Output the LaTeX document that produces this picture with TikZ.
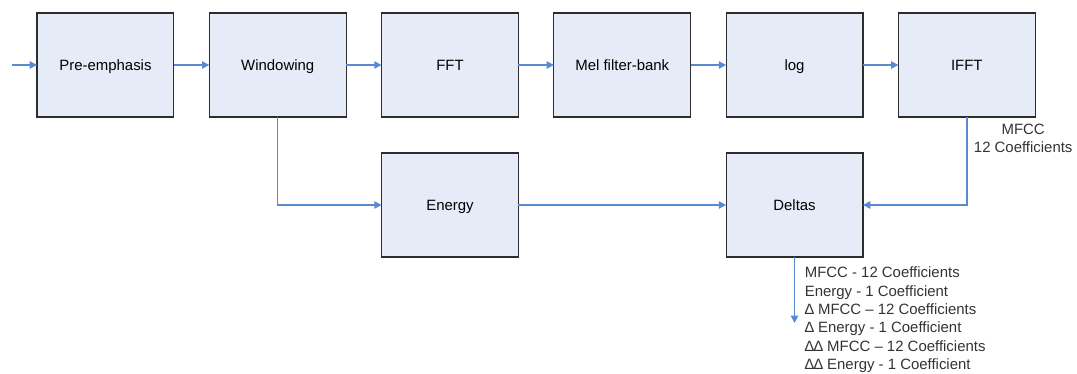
\documentclass[tikz,border=0pt]{standalone}
\usepackage{fontspec}
\setmainfont{Liberation Sans}
\usetikzlibrary{arrows.meta,positioning}

\definecolor{boxfill}{RGB}{230,236,247}
\definecolor{boxline}{RGB}{45,45,45}
\definecolor{flow}{RGB}{88,138,212}

\begin{document}
\begin{tikzpicture}[node distance=26.6pt,>={Triangle[length=5.5pt,width=5.5pt]},
    font=\fontsize{11.2}{13.75}\selectfont]

  \tikzstyle{block}=[rectangle,draw=boxline,line width=0.9pt,fill=boxfill,
                     minimum width=102.6pt,minimum height=78pt,inner sep=0pt,outer sep=0pt,
                     text height=8pt,text depth=0pt]
  \tikzstyle{flowline}=[->,draw=flow,line width=1.1pt]
  \tikzstyle{note}=[inner sep=2pt,text=black!80]

  \useasboundingbox (0,0) rectangle (807.75pt,-280.5pt);

  % processing chain
  \node [block] (pre) at (79.1pt,-48.75pt) {Pre-emphasis};
  \node [block] (win) [right=of pre]        {Windowing};
  \node [block] (fft) [right=of win]        {FFT};
  \node [block] (mel) [right=of fft]        {Mel filter-bank};
  \node [block] (log) [right=of mel]        {log};
  \node [block] (ifft) [right=of log]       {IFFT};

  \node [block] (energy) [below=27pt of fft] {Energy};
  \node [block] (deltas) [below=27pt of log] {Deltas};

  \coordinate [left=18.75pt of pre.west] (in);
  \coordinate [below=49.5pt of deltas.south] (out);

  \draw [flowline] (in) -- (pre);
  \draw [flowline] (pre) -- (win);
  \draw [flowline] (win) -- (fft);
  \draw [flowline] (fft) -- (mel);
  \draw [flowline] (mel) -- (log);
  \draw [flowline] (log) -- (ifft);
  \draw [flowline] (win.south) |- (energy.west);
  \draw [flowline] (energy) -- (deltas);
  \draw [flowline] (ifft.south) |- (deltas.east);
  \draw [flowline] (deltas.south) -- (out);

  % labels
  \node [note,align=center] (mfcc) [below=3pt of ifft.south east,xshift=-9pt]
    {MFCC\\12 Coefficients};
  \node [note,align=left] (feat) [below right=5.2pt and 5.5pt of deltas.south]
    {MFCC - 12 Coefficients\\
     Energy - 1 Coefficient\\
     ∆ MFCC – 12 Coefficients\\
     ∆ Energy - 1 Coefficient\\
     ∆∆ MFCC – 12 Coefficients\\
     ∆∆ Energy - 1 Coefficient};
\end{tikzpicture}
\end{document}
